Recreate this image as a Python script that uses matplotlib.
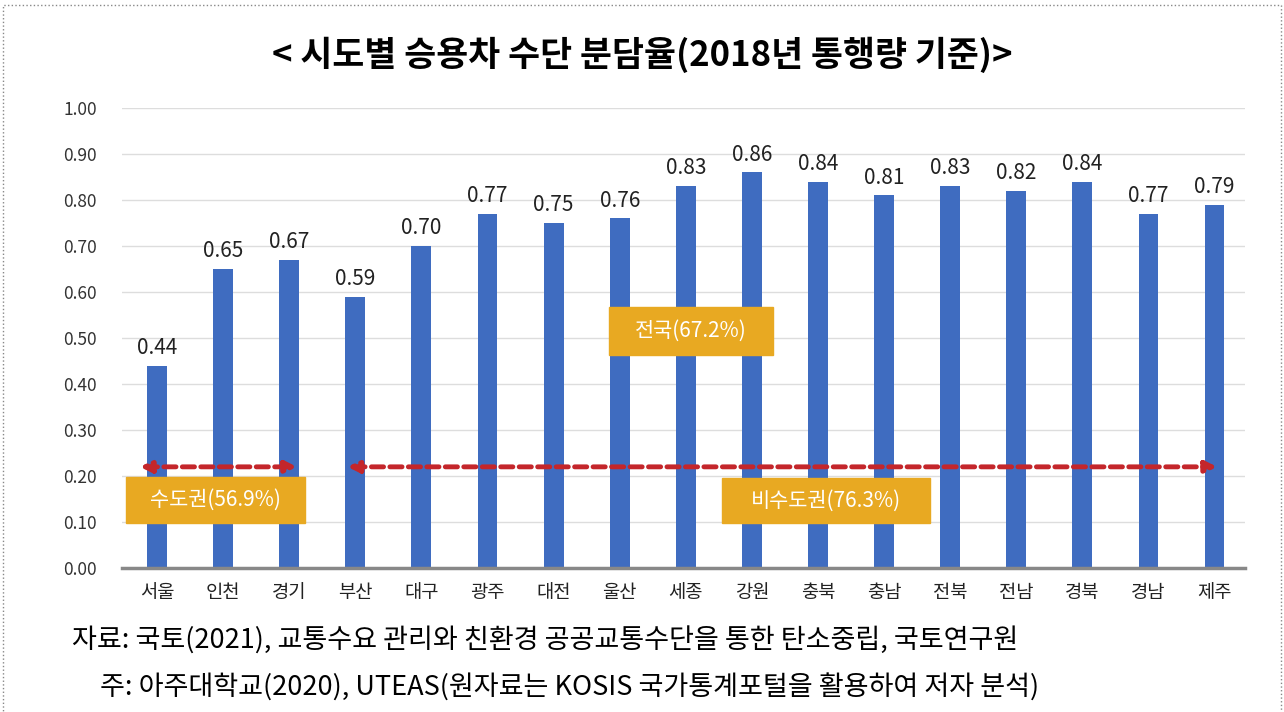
import matplotlib.pyplot as plt
from matplotlib.patches import Rectangle, FancyArrowPatch

plt.rcParams['font.family'] = ['Noto Sans CJK KR', 'DejaVu Sans']

# data
regions = ['서울', '인천', '경기', '부산', '대구', '광주', '대전', '울산', '세종',
           '강원', '충북', '충남', '전북', '전남', '경북', '경남', '제주']
share = [0.44, 0.65, 0.67, 0.59, 0.70, 0.77, 0.75, 0.76, 0.83,
         0.86, 0.84, 0.81, 0.83, 0.82, 0.84, 0.77, 0.79]
yticks = [0.0, 0.1, 0.2, 0.3, 0.4, 0.5, 0.6, 0.7, 0.8, 0.9, 1.0]

title = '< 시도별 승용차 수단 분담율(2018년 통행량 기준)>'
note1 = '자료: 국토(2021), 교통수요 관리와 친환경 공공교통수단을 통한 탄소중립, 국토연구원'
note2 = '주: 아주대학교(2020), UTEAS(원자료는 KOSIS 국가통계포털을 활용하여 저자 분석)'

bar_color = '#3f6cc0'
box_color = '#e8a922'
arrow_color = '#c4262b'

fig = plt.figure(figsize=(12.84, 7.12), dpi=100)
ax = fig.add_axes([0.095, 0.2022, 0.8746, 0.646])

x = range(len(regions))
ax.bar(x, share, width=0.3, color=bar_color, zorder=3)
for i, v in enumerate(share):
    ax.text(i, v + 0.015, f'{v:.2f}', ha='center', va='bottom', fontsize=15, color='#222222')

ax.set_xlim(-0.53, 16.46)
ax.set_ylim(0, 1.0)
ax.set_yticks(yticks)
ax.set_yticklabels([f'{t:.2f}' for t in yticks], fontsize=12.5, color='#333333')
ax.set_xticks(list(x))
ax.set_xticklabels(regions, fontsize=13.5, color='#222222')
ax.tick_params(length=0, pad=10)
ax.tick_params(axis='y', pad=18)
ax.grid(axis='y', color='#dddddd', linewidth=1, zorder=0)
for s in ['top', 'right', 'left']:
    ax.spines[s].set_visible(False)
ax.spines['bottom'].set_color('#888888')
ax.spines['bottom'].set_linewidth(2.5)
ax.spines['bottom'].set_zorder(4)

# region arrows
for x0, x1 in [(-0.30, 2.16), (2.84, 16.08)]:
    arr = FancyArrowPatch((x0, 0.22), (x1, 0.22), arrowstyle='<|-|>', mutation_scale=16,
                          color=arrow_color, linestyle=(0, (2.5, 1.3)), linewidth=3.5, zorder=5)
    ax.add_patch(arr)

# labels in boxes
boxes = [('수도권(56.9%)', -0.47, 2.24, 0.098, 0.198),
         ('비수도권(76.3%)', 8.55, 11.69, 0.098, 0.196),
         ('전국(67.2%)', 6.84, 9.32, 0.463, 0.567)]
for label, bx0, bx1, by0, by1 in boxes:
    ax.add_patch(Rectangle((bx0, by0), bx1 - bx0, by1 - by0, color=box_color, zorder=6))
    ax.text((bx0 + bx1) / 2, (by0 + by1) / 2, label, ha='center', va='center',
            fontsize=15, color='white', zorder=7)

fig.text(0.5, 0.923, title, ha='center', va='center', fontsize=25, fontweight='bold')
fig.text(0.056, 0.10, note1, ha='left', va='center', fontsize=19.5)
fig.text(0.078, 0.036, note2, ha='left', va='center', fontsize=19.5)

# dotted frame
fig.patches.append(Rectangle((0.002, -0.01), 0.996, 1.003, transform=fig.transFigure,
                             fill=False, edgecolor='#888888', linestyle=':', linewidth=1))

fig.savefig('out.png', dpi=100)
